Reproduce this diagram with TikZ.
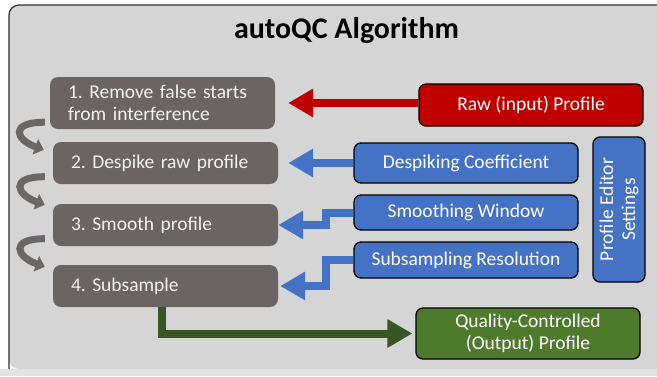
\documentclass[tikz,border=0pt]{standalone}
\usepackage{fontspec}
\setmainfont{Carlito}
\usetikzlibrary{arrows.meta}
\definecolor{stepgrey}{HTML}{6A6563}
\definecolor{turngrey}{HTML}{6B6765}
\definecolor{steptext}{HTML}{F4F4F4}
\definecolor{setblue}{HTML}{4472C4}
\definecolor{rawred}{HTML}{C00000}
\definecolor{qcgreen}{HTML}{4E7A2C}
\definecolor{arrowgreen}{HTML}{375623}
\definecolor{framegrey}{HTML}{D5D5D5}
\definecolor{frameline}{HTML}{2E2E2E}
\definecolor{belowgrey}{HTML}{E2E2E2}
\frenchspacing
\begin{document}
\begin{tikzpicture}[x=1pt,y=-1pt,
  stepbox/.style={rectangle, rounded corners=8pt, fill=stepgrey, text=steptext,
    font=\fontsize{19.5}{22}\selectfont, minimum width=225pt, minimum height=42pt,
    text width=189pt, inner xsep=18pt, inner ysep=0pt, align=left},
  setbox/.style={rectangle, rounded corners=7pt, fill=setblue, draw=black, line width=1.3pt,
    text=white, font=\fontsize{19.5}{22}\selectfont, minimum width=224pt, inner sep=0pt, align=center},
  fatarrow/.style={line width=8pt, -{Triangle[length=25pt,width=27pt]}},
  turnarrow/.style={line width=7pt, draw=turngrey, -{Triangle[length=9pt,width=16pt]}}
]
\useasboundingbox (0,0) rectangle (657,376);
\begin{scope}
  \clip (0,0) rectangle (657,376);
  \fill[white] (0,0) rectangle (657,376);
  \fill[belowgrey] (0,369) rectangle (657,376);
  \fill[framegrey, rounded corners=10pt] (9,5) rectangle (720,369);
  \draw[frameline, line width=1.2pt, rounded corners=10pt] (9,369) -- (9,5) -- (720,5);
\end{scope}

\node[font=\bfseries\fontsize{30}{36}\selectfont] (title) at (346.5,31) {autoQC Algorithm};

\node[stepbox, minimum height=52pt] (s1) at (162.5,103) {1. Remove false starts\\from interference};
\node[stepbox] (s2) at (165.5,163) {2. Despike raw profile};
\node[stepbox] (s3) at (165.5,225) {3. Smooth profile};
\node[stepbox] (s4) at (165.5,286) {4. Subsample};

\node[setbox, fill=rawred, minimum height=42pt] (raw) at (531,105) {Raw (input) Profile};
\node[setbox, minimum height=40pt] (desp) at (466,163) {Despiking Coefficient};
\node[setbox, minimum height=35pt] (smooth) at (466,212.5) {Smoothing Window};
\node[setbox, minimum height=36pt] (subs) at (466,260) {Subsampling Resolution};
\node[setbox, minimum width=145pt, minimum height=52pt, rotate=90] (pes) at (619,209.5) {Profile Editor\\Settings};
\node[setbox, fill=qcgreen, minimum height=51pt] (qc) at (528,333.5) {Quality-Controlled\\(Output) Profile};

\draw[fatarrow, draw=rawred, shorten >=13pt] (raw.west |- s1.east) -- (s1.east);
\draw[fatarrow, draw=setblue, shorten >=10pt] (desp.west) -- (s2.east);
\draw[fatarrow, draw=setblue] (smooth.west) -- ++(-27,0) |- (s3.east);
\draw[fatarrow, draw=setblue, shorten >=2pt] (subs.west) -- ++(-27,0) |- (s4.east);
\draw[fatarrow, draw=arrowgreen, shorten >=3pt] ([xshift=-3.5pt]s4.south) |- (qc.west);

\draw[turnarrow] ([shift={(-5,-7)}]s1.south west) .. controls +(-36,0) and +(-28,-10) .. ([shift={(-9,8)}]s2.north west);
\draw[turnarrow] ([shift={(-8,-7.5)}]s2.south west) .. controls +(-36,0) and +(-28,-10) .. ([shift={(-8,1)}]s3.north west);
\draw[turnarrow] ([shift={(-8,-7.5)}]s3.south west) .. controls +(-36,0) and +(-28,-10) .. ([shift={(-8,2)}]s4.north west);
\end{tikzpicture}
\end{document}
